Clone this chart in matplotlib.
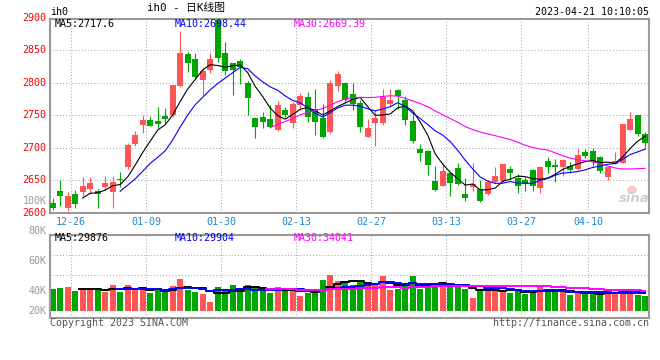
import numpy as np
import pandas as pd
import matplotlib
matplotlib.use("Agg")
import matplotlib.pyplot as plt
import matplotlib.transforms as mtransforms
from matplotlib.patches import Ellipse

# ---------------- data ----------------
opens = [2615, 2633, 2608, 2629, 2632, 2636, 2633, 2640, 2632, 2651.5,
         2671, 2706, 2735, 2742.6, 2741, 2749, 2750, 2795, 2844, 2836,
         2804, 2819.6, 2896, 2846, 2830, 2834, 2800, 2746, 2746.7, 2743.6,
         2727, 2758, 2737.5, 2765.6, 2777.5, 2759, 2746, 2724.6, 2795, 2800,
         2782.6, 2769, 2717, 2737.5, 2737.5, 2766.7, 2788.7, 2774, 2741.6, 2698,
         2695, 2648.7, 2641.5, 2660.6, 2669, 2628.7, 2639, 2636.5, 2628.7, 2647.7,
         2649, 2667, 2653, 2650, 2665.7, 2637.5, 2679.5, 2673, 2671, 2671.5,
         2667, 2694, 2695, 2686, 2655, 2675, 2677, 2728, 2750, 2721]
highs = [2622, 2650, 2632, 2635, 2655, 2655, 2636, 2656, 2656, 2663,
         2708, 2726, 2751, 2749, 2762, 2761, 2796, 2879.5, 2846.5, 2845,
         2823, 2846, 2898, 2863, 2831, 2836, 2803, 2748, 2755, 2765.6,
         2772, 2763, 2770.6, 2783.6, 2786, 2791, 2768, 2804, 2818, 2801,
         2799, 2774, 2743.6, 2758, 2791, 2790, 2791, 2779.5, 2755, 2705,
         2696.6, 2672, 2676, 2663, 2676, 2653, 2676, 2651, 2651, 2671,
         2675, 2672, 2659.5, 2655, 2667.5, 2671.5, 2686, 2683, 2682.6, 2678.5,
         2697.5, 2697.5, 2699, 2687, 2670, 2694, 2736.4, 2755, 2750, 2724.6]
lows = [2604, 2611, 2602, 2607, 2626, 2629, 2607, 2635, 2608, 2640,
        2668, 2703, 2723, 2733, 2731, 2738, 2748, 2794, 2817, 2806,
        2781, 2815, 2832, 2812, 2781, 2798, 2750, 2715, 2730, 2731,
        2726, 2747, 2730, 2758, 2740, 2719.5, 2715, 2723, 2788, 2769,
        2758, 2724.6, 2716, 2702.6, 2735, 2763, 2760, 2735, 2708, 2680,
        2658, 2634, 2641, 2625.7, 2643, 2618.5, 2634, 2617, 2627, 2646,
        2648, 2651, 2631, 2634, 2634, 2630, 2661.5, 2647.7, 2656.5, 2660.6,
        2666, 2684, 2672, 2661.5, 2651, 2675, 2676, 2727, 2718.5, 2699]
closes = [2608, 2625, 2625, 2613, 2641.5, 2645, 2629, 2645, 2647, 2650.5,
          2704, 2719.5, 2742.6, 2734, 2736, 2744, 2796, 2845, 2831, 2809,
          2818, 2836, 2838, 2818, 2820, 2824.5, 2777, 2732, 2740, 2732,
          2765.6, 2750, 2768, 2779.5, 2746.7, 2740, 2717, 2800, 2813, 2774,
          2767, 2732, 2730, 2746, 2777.5, 2774, 2779.5, 2742.6, 2710, 2692,
          2673, 2635, 2664, 2646, 2644, 2623, 2643.7, 2618.5, 2647.7, 2656.5,
          2675, 2660.6, 2641.5, 2643.7, 2641.5, 2670, 2670, 2670, 2681, 2665.7,
          2688.7, 2687.7, 2678.5, 2664.6, 2670, 2679.5, 2736.4, 2743.6, 2721, 2707.7]
volumes_k = [37.2, 38.9, 40.6, 33.8, 37.2, 35.5, 38.9, 32.1, 43.9, 32.1,
             43.9, 35.5, 37.2, 30.4, 37.2, 32.1, 42.3, 54.1, 35.5, 32.1,
             28.7, 15.2, 40.6, 37.2, 43.9, 33.8, 43.9, 40.6, 33.8, 30.4,
             40.6, 33.8, 37.2, 25.4, 30.4, 30.4, 52.4, 60.8, 50.7, 47.3,
             43.9, 50.7, 42.3, 47.3, 59.2, 35.5, 37.2, 42.3, 59.2, 37.2,
             42.3, 47.3, 47.3, 42.3, 42.3, 37.2, 22.0, 37.2, 40.6, 37.2,
             33.8, 30.4, 33.8, 28.7, 30.4, 42.3, 35.5, 33.8, 32.1, 27.0,
             30.4, 30.4, 28.7, 28.7, 33.8, 30.4, 37.2, 33.8, 27.0, 25.4]

date_labels = ["12-26", "01-09", "01-30", "02-13", "02-27", "03-13", "03-27", "04-10"]
date_index = [1, 11, 21, 31, 41, 51, 61, 70]
price_ticks = [2600, 2650, 2700, 2750, 2800, 2850, 2900]
vol_axis_labels = ["100K", "80K", "60K", "40K", "20K"]
ma_windows = [5, 10, 30]
main_ma_labels = ["MA5:2717.6", "MA10:2698.44", "MA30:2669.39"]
vol_ma_labels = ["MA5:29876", "MA10:29904", "MA30:34041"]
symbol = "ih0"
title = "ih0 - 日K线图"
timestamp = "2023-04-21 10:10:05"
copyright_text = "Copyright 2023 SINA.COM"
url_text = "http://finance.sina.com.cn"

# ---------------- style / layout ----------------
W, H = 660, 360
RED = "#ff5555"
GREEN = "#00a600"
MA_COLORS = ["#000000", "#0000ff", "#ff00ff"]
GRID = "#aaaaaa"
BORDER = "#999999"
XLAB = "#1a88d8"
MONO = ["DejaVu Sans Mono", "Noto Sans CJK SC"]
FS = 7.2

AX_L, AX_R = 50, 649
MAIN_T, MAIN_B = 19, 212.7
VOL_T, VOL_B, VOL_BASE = 235, 318, 311
PX_PER_50 = 32.5
VOL_K_PER_PX = 1.69
X0, DX = 52.7, 7.5
GRID_SHIFT = 1.43
vol_label_y = [200.7, 230.7, 260.7, 290.7, 310.7]
vol_grid_px = [255, 275]


def fx(x):
    return x / W


def fy(y):
    return 1 - y / H


fig = plt.figure(figsize=(W / 100, H / 100), dpi=100)
fig.patch.set_facecolor("white")

ax = fig.add_axes([fx(AX_L), fy(MAIN_B), (AX_R - AX_L) / W, (MAIN_B - MAIN_T) / H])
axv = fig.add_axes([fx(AX_L), fy(VOL_B), (AX_R - AX_L) / W, (VOL_B - VOL_T) / H])

o = np.array(opens, float)
h = np.array(highs, float)
l = np.array(lows, float)
c = np.array(closes, float)
v = np.array(volumes_k, float)
n = len(c)
x = np.arange(n)
up = c >= o
cols = np.where(up, RED, GREEN)

xlim = ((AX_L - X0) / DX, (AX_R - X0) / DX)
ppx = 50 / PX_PER_50
ylim_main = (2600, 2600 + (MAIN_B - MAIN_T) * ppx)

for a in (ax, axv):
    a.set_xlim(*xlim)
    a.set_facecolor("white")
    a.set_xticks([i + GRID_SHIFT for i in date_index])
    a.grid(axis="both", linestyle=(0, (1, 2)), color=GRID, linewidth=0.75)
    a.set_axisbelow(True)
    for s in a.spines.values():
        s.set_color(BORDER)
        s.set_linewidth(1.5)
    a.tick_params(length=0)
    a.set_yticklabels([])

# main candles
ax.set_ylim(*ylim_main)
ax.set_yticks([p for p in price_ticks if 2600 < p < 2900])
ax.vlines(x, l, h, colors=cols, linewidth=0.8, zorder=2)
body_bottom = np.minimum(o, c)
body_h = np.maximum(np.abs(c - o), 1.3)
ax.bar(x, body_h, bottom=body_bottom, width=0.76, color=cols, linewidth=0, zorder=3)

cs = pd.Series(c)
for w, col in zip(ma_windows, MA_COLORS):
    ax.plot(x, cs.rolling(w).mean(), color=col, linewidth=0.8, zorder=4)

ax.set_xticklabels(date_labels, color=XLAB, fontsize=FS, family=MONO)
ax.tick_params(axis="x", pad=3)

# price labels
trans = mtransforms.blended_transform_factory(fig.transFigure, ax.transData)
for p in price_ticks:
    ax.text(fx(46.5), p, str(p), transform=trans, ha="right", va="center",
            color="#ff0000", fontsize=FS, family=MONO, clip_on=False)

# volume panel
vol_bottom = -(VOL_B - VOL_BASE) * VOL_K_PER_PX
vol_top = (VOL_BASE - VOL_T) * VOL_K_PER_PX
axv.set_ylim(vol_bottom, vol_top)
axv.set_yticks([(VOL_BASE - g) * VOL_K_PER_PX for g in vol_grid_px])
axv.set_xticklabels([])
axv.bar(x, v, width=0.82, color=cols, linewidth=0, zorder=2)
vs = pd.Series(v)
for w, col in zip(ma_windows, MA_COLORS):
    axv.plot(x, vs.rolling(w).mean(), color=col, linewidth=1.4,
             drawstyle="steps-mid", zorder=3)

for lab, yy in zip(vol_axis_labels, vol_label_y):
    fig.text(fx(46.5), fy(yy), lab, ha="right", va="center", color="#999999",
             fontsize=FS, family=MONO)

# headers
fig.text(fx(50), fy(11.7), symbol, ha="left", va="center", fontsize=FS, family=MONO)
fig.text(fx(186), fy(8.5), title, ha="center", va="center", fontsize=7.8, family=MONO)
fig.text(fx(649), fy(12), timestamp, ha="right", va="center", fontsize=FS, family=MONO)
for lab, xx, col in zip(main_ma_labels, [55, 175, 294], MA_COLORS):
    fig.text(fx(xx), fy(23.7), lab, ha="left", va="center", color=col, fontsize=FS, family=MONO)
for lab, xx, col in zip(vol_ma_labels, [55, 175, 294], MA_COLORS):
    fig.text(fx(xx), fy(238.3), lab, ha="left", va="center", color=col, fontsize=FS, family=MONO)
fig.text(fx(50), fy(323.5), copyright_text, ha="left", va="center", color="#555555",
         fontsize=FS, family=MONO)
fig.text(fx(649), fy(323.5), url_text, ha="right", va="center", color="#555555",
         fontsize=FS, family=MONO)

# sina watermark
fig.add_artist(Ellipse((fx(632), fy(190)), 10 / W, 8 / H, transform=fig.transFigure,
                       facecolor="#f5c8c8", edgecolor="none"))
fig.text(fx(634), fy(199), "sina", ha="center", va="center", color="#cfcfcf",
         fontsize=9.5, style="italic", weight="bold")

fig.savefig("out.png", dpi=100, facecolor="white")
